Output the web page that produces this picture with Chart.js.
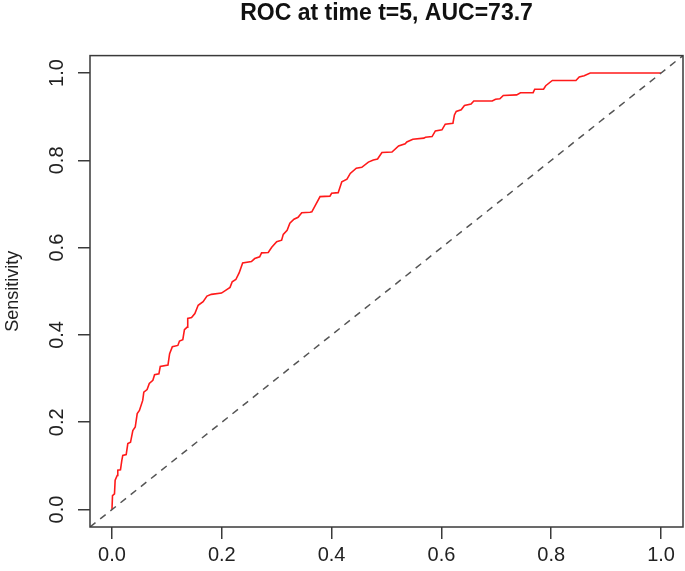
<!DOCTYPE html>
<html>
<head>
<meta charset="utf-8">
<title>ROC</title>
<script src="https://cdn.jsdelivr.net/npm/chart.js@4.4.1/dist/chart.umd.min.js"></script>
<style>
  html, body { margin: 0; padding: 0; background: #fff; }
  #wrap { width: 685px; height: 571px; position: relative; }
</style>
</head>
<body>
<div id="wrap"><canvas id="rocChart"></canvas></div>
<script>
// ===== 数据 =====
const TITLE = 'ROC at time t=5, AUC=73.7';
const Y_TITLE = 'Sensitivity';
const TICKS = [0, 0.2, 0.4, 0.6, 0.8, 1.0];
const AXIS_MIN = -0.04;
const AXIS_MAX = 1.04;

// 1 - specificity
const fpr = [
  0, 0.001, 0.0046, 0.0058, 0.0095, 0.0106, 0.0155, 0.0179, 0.0197, 0.0259,
  0.0289, 0.0338, 0.038, 0.0424, 0.046, 0.050, 0.056, 0.058, 0.064, 0.068,
  0.0745, 0.0776, 0.0855, 0.088, 0.102, 0.105, 0.110, 0.120, 0.123, 0.129,
  0.132, 0.137, 0.138, 0.145, 0.151, 0.157, 0.166, 0.173, 0.181, 0.1995,
  0.209, 0.215, 0.219, 0.2256, 0.2316, 0.238, 0.254, 0.260, 0.269, 0.2725,
  0.2846, 0.291, 0.300, 0.309, 0.312, 0.319, 0.324, 0.3315, 0.339, 0.3456,
  0.3607, 0.364, 0.379, 0.397, 0.400, 0.412, 0.4186, 0.428, 0.434, 0.445,
  0.455, 0.467, 0.476, 0.4837, 0.4917, 0.510, 0.522, 0.534, 0.537, 0.548,
  0.568, 0.571, 0.583, 0.589, 0.601, 0.607, 0.621, 0.6237, 0.627, 0.636,
  0.642, 0.654, 0.659, 0.6926, 0.6986, 0.7065, 0.7127, 0.737, 0.744, 0.767,
  0.770, 0.786, 0.790, 0.802, 0.845, 0.851, 0.860, 0.871, 1.0,
];

// sensitivity
const tpr = [
  0, 0.032, 0.036, 0.067, 0.078, 0.090, 0.091, 0.112, 0.124, 0.126,
  0.151, 0.154, 0.181, 0.189, 0.220, 0.227, 0.250, 0.269, 0.275, 0.289,
  0.296, 0.309, 0.311, 0.328, 0.331, 0.357, 0.373, 0.376, 0.386, 0.389,
  0.412, 0.418, 0.438, 0.440, 0.449, 0.468, 0.476, 0.489, 0.493, 0.496,
  0.504, 0.509, 0.522, 0.527, 0.542, 0.565, 0.568, 0.575, 0.579, 0.588,
  0.589, 0.601, 0.6135, 0.617, 0.6305, 0.640, 0.656, 0.665, 0.6695, 0.680,
  0.681, 0.682, 0.717, 0.718, 0.7246, 0.726, 0.751, 0.757, 0.770, 0.782,
  0.784, 0.796, 0.801, 0.803, 0.818, 0.819, 0.833, 0.838, 0.842, 0.8485,
  0.851, 0.853, 0.8545, 0.8675, 0.870, 0.883, 0.885, 0.904, 0.912, 0.916,
  0.9256, 0.929, 0.936, 0.936, 0.940, 0.941, 0.9486, 0.950, 0.955, 0.955,
  0.963, 0.963, 0.971, 0.983, 0.983, 0.991, 0.994, 1.0, 1.0,
];

// 参考对角线 (abline 0,1)
const diagX = [AXIS_MIN, AXIS_MAX];
const diagY = [AXIS_MIN, AXIS_MAX];

const FONT = "'Liberation Sans', Arial, sans-serif";
const AXIS_COLOR = '#3a3a3a';
const TICK_FONT_SIZE = 20;

// ===== 插件：外框 + 竖排 y 刻度标签 =====
const framePlugin = {
  id: 'frame',
  afterDraw(chart) {
    const { ctx, chartArea } = chart;
    ctx.save();
    ctx.strokeStyle = AXIS_COLOR;
    ctx.lineWidth = 1.5;
    ctx.strokeRect(chartArea.left, chartArea.top, chartArea.right - chartArea.left, chartArea.bottom - chartArea.top);

    // y 轴刻度文字，R 默认与坐标轴平行
    const yScale = chart.scales.y;
    ctx.fillStyle = '#222';
    ctx.font = `${TICK_FONT_SIZE}px ${FONT}`;
    ctx.textAlign = 'center';
    ctx.textBaseline = 'middle';
    TICKS.forEach((v) => {
      ctx.save();
      ctx.translate(57, yScale.getPixelForValue(v));
      ctx.rotate(-Math.PI / 2);
      ctx.fillText(v.toFixed(1), 0, 0);
      ctx.restore();
    });
    ctx.restore();
  },
};

function fixedTicks(axis) {
  axis.ticks = TICKS.map((v) => ({ value: v }));
}

const ctx = document.getElementById('rocChart');

new Chart(ctx, {
  type: 'scatter',
  data: {
    datasets: [
      {
        label: 'diagonal',
        data: diagX.map((x, i) => ({ x, y: diagY[i] })),
        showLine: true,
        borderColor: '#555',
        borderWidth: 1.5,
        borderDash: [7, 6],
        pointRadius: 0,
      },
      {
        label: 'ROC',
        data: fpr.map((x, i) => ({ x, y: tpr[i] })),
        showLine: true,
        borderColor: '#ff1a1a',
        borderWidth: 1.6,
        pointRadius: 0,
        tension: 0,
      },
    ],
  },
  options: {
    responsive: true,
    maintainAspectRatio: false,
    animation: false,
    layout: { padding: { top: 0, right: 2, bottom: 0, left: 0 } },
    scales: {
      x: {
        type: 'linear',
        min: AXIS_MIN,
        max: AXIS_MAX,
        afterBuildTicks: fixedTicks,
        afterFit: (scale) => { scale.height = 44; },
        border: { display: false },
        grid: { drawOnChartArea: false, drawTicks: true, tickLength: 12, color: AXIS_COLOR, lineWidth: 1.5 },
        ticks: {
          color: '#222',
          padding: 4,
          maxRotation: 0,
          font: { size: TICK_FONT_SIZE, family: FONT },
          callback: (value) => Number(value).toFixed(1),
        },
      },
      y: {
        type: 'linear',
        min: AXIS_MIN,
        max: AXIS_MAX,
        afterBuildTicks: fixedTicks,
        afterFit: (scale) => { scale.width = 90; },
        border: { display: false },
        grid: { drawOnChartArea: false, drawTicks: true, tickLength: 12, color: AXIS_COLOR, lineWidth: 1.5 },
        ticks: { display: false },
        title: {
          display: true,
          text: Y_TITLE,
          color: '#222',
          padding: { top: 2, bottom: 0 },
          font: { size: 18, family: FONT },
        },
      },
    },
    plugins: {
      legend: { display: false },
      tooltip: { enabled: false },
      title: {
        display: true,
        text: TITLE,
        fullSize: false,
        color: '#111',
        padding: { top: 0, bottom: 28 },
        font: { size: 23, weight: 'bold', family: FONT },
      },
    },
  },
  plugins: [framePlugin],
});
</script>
</body>
</html>
